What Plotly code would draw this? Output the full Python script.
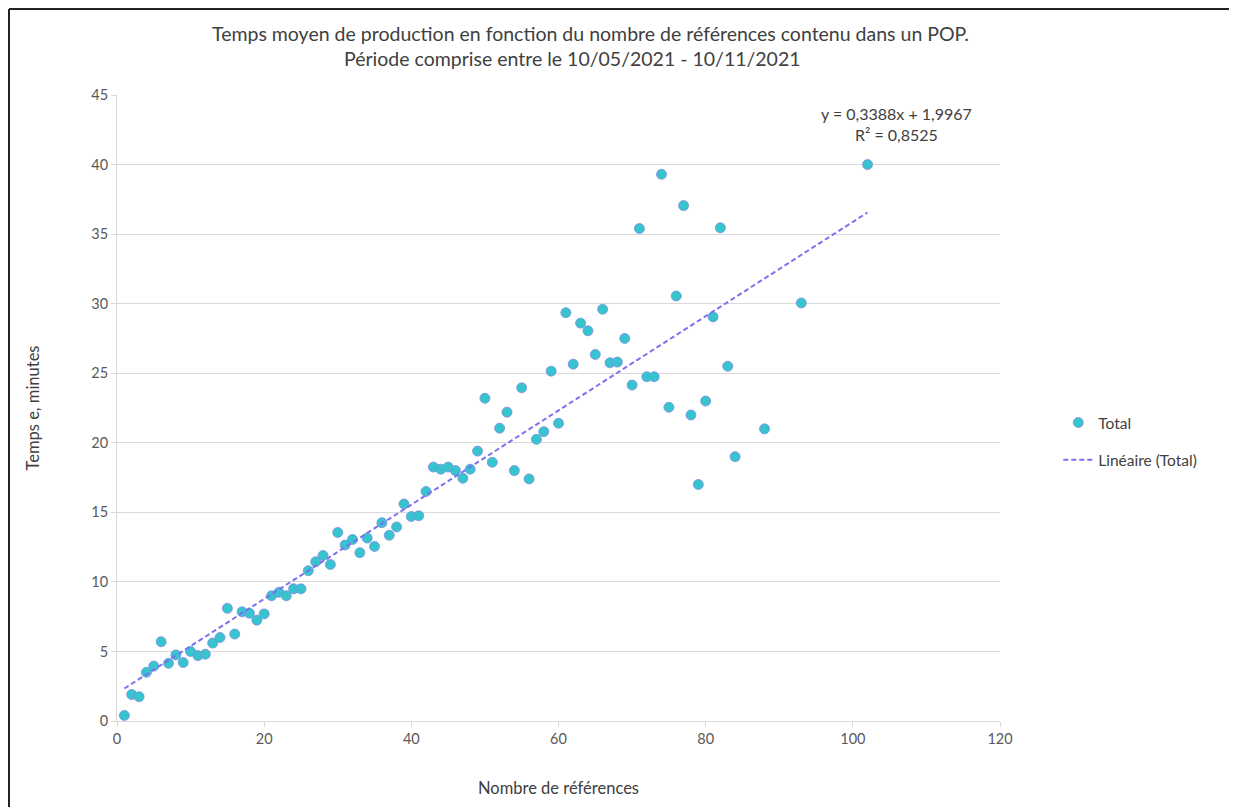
import plotly.graph_objects as go

# Data
nb_references = list(range(1, 85)) + [88, 93, 102]
temps_minutes = [
    0.4, 1.9, 1.75, 3.5, 3.95, 5.7, 4.15, 4.75, 4.2, 5.0,
    4.7, 4.8, 5.6, 6.0, 8.1, 6.25, 7.85, 7.75, 7.25, 7.7,
    9.0, 9.25, 9.0, 9.5, 9.5, 10.8, 11.45, 11.9, 11.25, 13.55,
    12.65, 13.05, 12.1, 13.15, 12.55, 14.25, 13.35, 13.95, 15.6, 14.7,
    14.75, 16.5, 18.25, 18.1, 18.25, 18.0, 17.45, 18.1, 19.4, 23.2,
    18.6, 21.05, 22.2, 18.0, 23.95, 17.4, 20.25, 20.8, 25.15, 21.4,
    29.35, 25.65, 28.6, 28.05, 26.35, 29.6, 25.75, 25.8, 27.5, 24.15,
    35.4, 24.75, 24.75, 39.3, 22.55, 30.55, 37.05, 22.0, 17.0, 23.0,
    29.05, 35.45, 25.5, 19.0, 21.0, 30.05, 40.0,
]
slope = 0.3388
intercept = 1.9967
r2 = 0.8525
x_ticks = [0, 20, 40, 60, 80, 100, 120]
y_ticks = [0, 5, 10, 15, 20, 25, 30, 35, 40, 45]
title_line1 = "Temps moyen de production en fonction du nombre de références contenu dans un POP."
title_line2 = "Période comprise entre le 10/05/2021 - 10/11/2021"

FONT = "Lato"
GREY = "#595959"
DARK = "#404040"

trend_x = [min(nb_references), max(nb_references)]
trend_y = [slope * v + intercept for v in trend_x]

fig = go.Figure()
fig.add_trace(go.Scatter(
    x=nb_references, y=temps_minutes, mode="markers", name="Total",
    legendgroup="a",
    marker=dict(size=10, color="#36C5CF", line=dict(color="#7E8BE0", width=0.8)),
))
fig.add_trace(go.Scatter(
    x=trend_x, y=trend_y, mode="lines", name="Linéaire (Total)",
    legendgroup="b",
    line=dict(color="#7B70F0", width=2, dash="5px,3px"),
))

W, H = 1229, 799
L, T, PW, PH = 109, 87, 883, 626
fig.update_layout(
    width=W, height=H,
    margin=dict(l=L, r=W - L - PW, t=T, b=H - T - PH),
    paper_bgcolor="white", plot_bgcolor="white",
    font=dict(family=FONT, color=GREY, size=14.5),
    legend=dict(
        x=1.066, xanchor="left", y=0.4465, yanchor="middle",
        font=dict(family=FONT, size=15.5, color=DARK),
        bgcolor="rgba(0,0,0,0)", tracegroupgap=14, traceorder="grouped",
    ),
    showlegend=True,
)
fig.update_xaxes(
    range=[0, 120], tickvals=x_ticks, showgrid=False, zeroline=False,
    showline=True, linecolor="#D9D9D9", linewidth=1,
    ticks="outside", ticklen=5, tickcolor="#D9D9D9",
    tickfont=dict(family=FONT, size=14.5, color=GREY),
    title=dict(text="Nombre de références", font=dict(family=FONT, size=16.5, color=DARK), standoff=36),
)
fig.update_yaxes(
    range=[0, 45], tickvals=y_ticks, showgrid=True, gridcolor="#D9D9D9", gridwidth=1,
    zeroline=False, showline=True, linecolor="#D9D9D9", linewidth=1,
    ticks="outside", ticklen=5, tickcolor="#D9D9D9",
    tickfont=dict(family=FONT, size=14.5, color=GREY),
    title=dict(text="Temps e, minutes", font=dict(family=FONT, size=16.5, color=DARK), standoff=47),
)

# Title lines
fig.add_annotation(x=0.5357, y=1.099, xref="paper", yref="paper", text=title_line1,
                   showarrow=False, xanchor="center", yanchor="middle",
                   font=dict(family=FONT, size=19.5, color=DARK))
fig.add_annotation(x=0.5153, y=1.0591, xref="paper", yref="paper", text=title_line2,
                   showarrow=False, xanchor="center", yanchor="middle",
                   font=dict(family=FONT, size=19.5, color=DARK))

fig.add_annotation(
    x=106, y=42.9, xref="x", yref="y",
    text=f"y = {slope:.4f}x + {intercept:.4f}".replace(".", ",") + f"<br>R² = {r2:.4f}".replace(".", ","),
    showarrow=False, font=dict(family=FONT, size=16, color=DARK),
    align="center", xanchor="center", yanchor="middle",
)

# Figure border (top and left edges)
bx = (1 - L) / PW
by = 1 + (T - 1) / PH
fig.add_shape(type="line", xref="paper", yref="paper",
              x0=bx, x1=(W - L) / PW, y0=by, y1=by,
              line=dict(color="#222222", width=2))
fig.add_shape(type="line", xref="paper", yref="paper",
              x0=bx, x1=bx, y0=by, y1=-(H - T - PH) / PH,
              line=dict(color="#222222", width=2))

fig.write_html("out.html")
